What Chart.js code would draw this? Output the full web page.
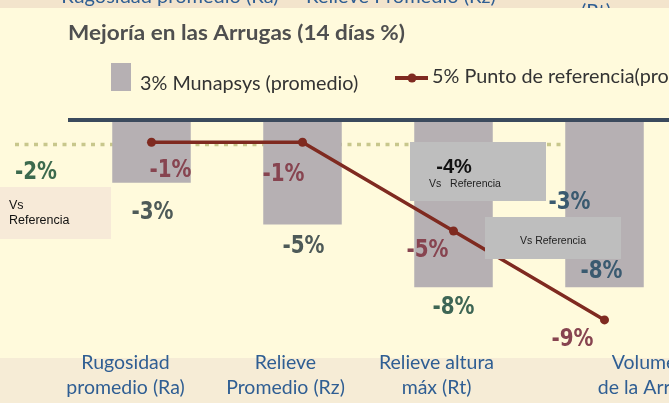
<!DOCTYPE html>
<html>
<head>
<meta charset="utf-8">
<script src="https://cdn.jsdelivr.net/npm/chart.js@4.4.1/dist/chart.umd.min.js"></script>
<style>
  html, body { margin: 0; padding: 0; overflow: hidden; background: #fffadc; }
  #wrap { position: relative; width: 700px; height: 403px; }
</style>
</head>
<body>
<div id="wrap"><canvas id="grafico" width="700" height="403"></canvas></div>
<script>
// datos
const categorias = [["Rugosidad", "promedio (Ra)"], ["Relieve", "Promedio (Rz)"], ["Relieve altura", "máx (Rt)"], ["Volumen", "de la Arruga"]];
const munapsys = [-3, -5, -8, -8];
const referencia = [-1, -1, -5, -9];
const nivelBase = -2;
const volumenExtra = -3;
const diferencia = -4;
const tituloTexto = "Mejoría en las Arrugas (14 días %)";
const leyendaBarras = "3% Munapsys (promedio)";
const leyendaLinea = "5% Punto de referencia(promedio)";
const textosSuperiores = ["Rugosidad promedio (Ra)", "Relieve Promedio (Rz)", "(Rt)"];
const textoVs = "Referencia";

const AZUL = "#2f5e93";
const ROJO = "#7f2a20";
const GRIS_BARRA = "#b6b0b3";
const NUM_FONT = 'bold 25px "Liberation Sans Narrow", "DejaVu Sans Condensed", "Liberation Sans", sans-serif';
const LATO = s => s + "px Lato, sans-serif";

const pct = v => v + "%";

function texto(ctx, str, x, y, font, color, align, sx) {
  ctx.save();
  ctx.font = font;
  ctx.fillStyle = color;
  ctx.textAlign = align || "left";
  ctx.textBaseline = "middle";
  ctx.translate(x, y);
  ctx.scale(sx || 1, 1);
  ctx.fillText(str, 0, 0);
  ctx.restore();
}

// estira el texto hasta un ancho dado
function textoAncho(ctx, str, x, y, font, color, ancho) {
  ctx.save();
  ctx.font = font;
  const sx = ancho / ctx.measureText(str).width;
  ctx.restore();
  texto(ctx, str, x, y, font, color, "left", sx);
}

function numero(ctx, str, x, y, color) {
  ctx.save();
  ctx.font = NUM_FONT;
  const sx = 42 / ctx.measureText("-3%").width;
  ctx.restore();
  texto(ctx, str, x, y, NUM_FONT, color, "center", sx);
}

const decoracion = {
  id: "decoracion",
  beforeDraw(chart) {
    const ctx = chart.ctx;
    const W = chart.width;
    ctx.save();
    ctx.fillStyle = "#fffadc";
    ctx.fillRect(0, 0, W, chart.height);
    ctx.fillStyle = "#f6ecd6";
    ctx.fillRect(0, 358, W, chart.height - 358);
    ctx.fillStyle = "#f3e4cc";
    ctx.fillRect(0, 0, W, 8);
    ctx.beginPath();
    ctx.rect(0, 0, W, 8);
    ctx.clip();
    texto(ctx, textosSuperiores[0], 170, -3, LATO(20), AZUL, "center");
    texto(ctx, textosSuperiores[1], 401, -3, LATO(20), AZUL, "center");
    texto(ctx, textosSuperiores[2], 596, 12, LATO(20), AZUL, "center");
    ctx.restore();

    // titulo
    textoAncho(ctx, tituloTexto, 68, 33, "bold " + LATO(20.5), "#4f4f4f", 337);

    // leyenda
    ctx.save();
    ctx.fillStyle = GRIS_BARRA;
    ctx.fillRect(111, 63, 20, 28);
    ctx.strokeStyle = ROJO;
    ctx.lineWidth = 4;
    ctx.beginPath();
    ctx.moveTo(395, 78);
    ctx.lineTo(428, 78);
    ctx.stroke();
    ctx.fillStyle = ROJO;
    ctx.beginPath();
    ctx.arc(412, 78, 4.5, 0, Math.PI * 2);
    ctx.fill();
    ctx.restore();
    texto(ctx, leyendaBarras, 140, 84, LATO(19.8), "#333333", "left");
    texto(ctx, leyendaLinea, 432, 77, LATO(19.8), "#333333", "left");
  },
  beforeDatasetsDraw(chart) {
    const ctx = chart.ctx;
    const y2 = chart.scales.y2;
    const yp = y2.getPixelForValue(-1.1);
    ctx.save();
    ctx.strokeStyle = "#c8c78c";
    ctx.lineWidth = 3.5;
    ctx.setLineDash([4, 5.5]);
    ctx.beginPath();
    ctx.moveTo(15, yp);
    ctx.lineTo(565, yp);
    ctx.stroke();
    ctx.restore();
  },
  afterDatasetsDraw(chart) {
    const ctx = chart.ctx;
    const x = chart.scales.x, y = chart.scales.y, y2 = chart.scales.y2;
    const cero = y.getPixelForValue(0);

    // linea de cero
    ctx.save();
    ctx.strokeStyle = "#3b4a5d";
    ctx.lineWidth = 4;
    ctx.beginPath();
    ctx.moveTo(68, cero);
    ctx.lineTo(chart.width, cero);
    ctx.stroke();
    ctx.restore();

    // etiquetas de la linea de referencia
    const offLinea = [[19, 28], [-19, 32], [-26, 19], [-32, 20]];
    referencia.forEach((v, i) => {
      numero(ctx, pct(v), x.getPixelForValue(i) + offLinea[i][0], y2.getPixelForValue(v) + offLinea[i][1], "#874450");
    });

    // etiquetas de las barras
    const offBarra = [[1, 30], [1, 22], [0, 20], [-3, -16]];
    const colBarra = ["#4e5a58", "#4e5a58", "#3e6655", "#3a5a70"];
    munapsys.forEach((v, i) => {
      numero(ctx, pct(v), x.getPixelForValue(i) + offBarra[i][0], y.getPixelForValue(v) + offBarra[i][1], colBarra[i]);
    });
    numero(ctx, pct(volumenExtra), x.getPixelForValue(3) - 35, y.getPixelForValue(volumenExtra) + 20, "#3a5a70");
    numero(ctx, pct(nivelBase), 36, 172, "#3c6a4e");

    // recuadros "Vs Referencia"
    ctx.save();
    ctx.fillStyle = "#f7ead8";
    ctx.fillRect(0, 187, 111, 52);
    ctx.fillStyle = "#bebebe";
    ctx.fillRect(410, 142, 136, 59);
    ctx.fillRect(485, 217, 136, 42);
    ctx.restore();
    const arial = s => s + 'px "Liberation Sans", Arial, sans-serif';
    texto(ctx, "Vs", 9, 206, arial(12.5), "#111", "left");
    texto(ctx, textoVs, 9, 221, arial(12.5), "#111", "left");
    texto(ctx, pct(diferencia), 454, 167, "bold " + arial(20), "#111", "center");
    texto(ctx, "Vs   " + textoVs, 465, 184, arial(10.5), "#222", "center");
    texto(ctx, "Vs " + textoVs, 553, 241, arial(10.5), "#222", "center");

    // etiquetas de categoria
    const dx = [-26, -17, -17, 45];
    categorias.forEach((lineas, i) => {
      const cx = x.getPixelForValue(i) + dx[i];
      lineas.forEach((t, k) => texto(ctx, t, cx, 363 + k * 25, LATO(19.5), AZUL, "center"));
    });
  }
};

new Chart(document.getElementById("grafico"), {
  type: "bar",
  data: {
    labels: categorias,
    datasets: [
      {
        type: "line",
        label: leyendaLinea,
        data: referencia,
        yAxisID: "y2",
        borderColor: ROJO,
        backgroundColor: ROJO,
        borderWidth: 3.5,
        pointRadius: 4.5,
        pointBackgroundColor: ROJO,
        pointBorderWidth: 0,
        tension: 0,
        order: 0
      },
      {
        label: leyendaBarras,
        data: munapsys,
        yAxisID: "y",
        backgroundColor: GRIS_BARRA,
        borderWidth: 0,
        barPercentage: 0.52,
        categoryPercentage: 1,
        order: 1
      }
    ]
  },
  options: {
    responsive: false,
    animation: false,
    devicePixelRatio: 1,
    layout: { padding: { top: 120, left: 76, right: 20, bottom: 62 } },
    plugins: {
      legend: { display: false },
      title: { display: false },
      tooltip: { enabled: false }
    },
    scales: {
      x: { display: false },
      y: { display: false, min: -10.57, max: 0 },
      y2: { display: false, min: -9.95, max: 0 }
    }
  },
  plugins: [decoracion]
});
</script>
</body>
</html>
